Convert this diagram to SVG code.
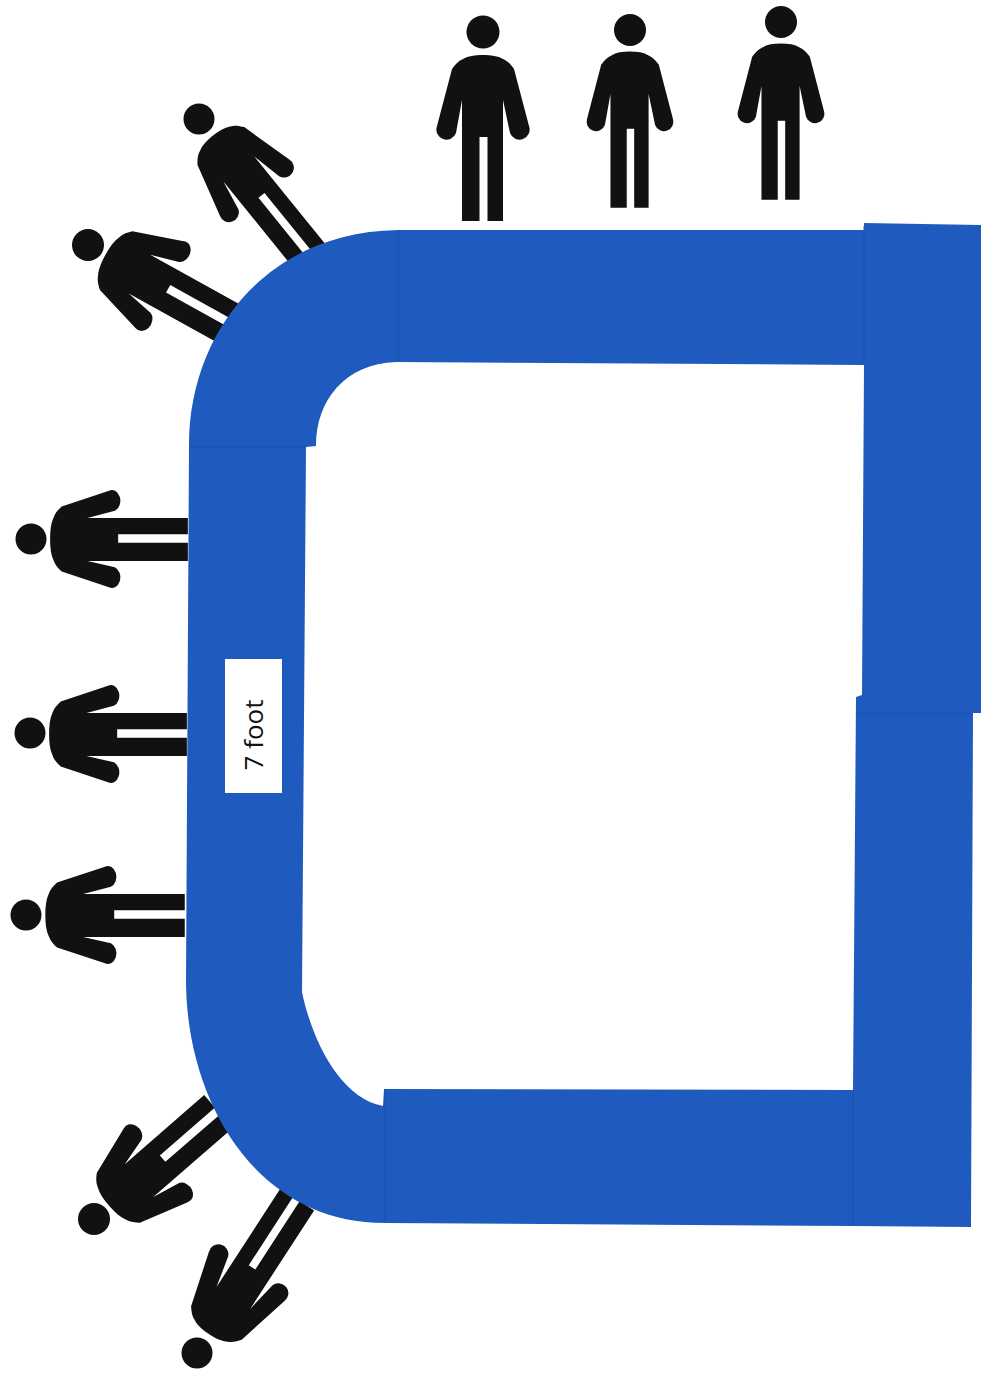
<svg xmlns="http://www.w3.org/2000/svg" xmlns:xlink="http://www.w3.org/1999/xlink" width="981" height="1379" viewBox="0 0 981 1379">
<style>
.fig{fill:#111}
.seam{fill:none;stroke:#1a50a8;stroke-width:1.5;opacity:.6}
.lbl{font-family:"Open Sans","Liberation Sans",sans-serif;font-size:26px;fill:#111}
</style>
<defs>
<path id="body" d="M0,23C8,23 15,24 20,27C25,29 28,33 31,37L46,94A10,10 0 0 1 27,101L20,68V189H4.5V105H-3.5V189H-21V68L-27,101A10,10 0 0 1 -46,94L-31,37C-28,33 -25,29 -20,27C-15,24 -8,23 0,23Z"/>
</defs>
<rect width="981" height="1379" fill="#fff"/>
<g id="person-top-1" class="fig"><circle cx="483" cy="32" r="16.5"/><use xlink:href="#body" href="#body" transform="translate(483,32)"/></g>
<g id="person-top-2" class="fig"><circle cx="630" cy="30" r="16"/><use xlink:href="#body" href="#body" transform="translate(630,30) scale(.93,.94)"/></g>
<g id="person-top-3" class="fig"><circle cx="781" cy="22" r="16"/><use xlink:href="#body" href="#body" transform="translate(781,22) scale(.93,.94)"/></g>
<g id="person-upper-1" class="fig"><circle cx="199" cy="119" r="15.5"/><use xlink:href="#body" href="#body" transform="translate(199,119) rotate(-39) scale(.97,.94)"/></g>
<g id="person-upper-2" class="fig"><circle cx="88" cy="245" r="16"/><use xlink:href="#body" href="#body" transform="translate(88,245) rotate(-61) scale(1.08,.87)"/></g>
<g id="person-left-1" class="fig"><circle cx="31" cy="539" r="15.5"/><use xlink:href="#body" href="#body" transform="translate(31,539) rotate(-90) scale(1.05,.83)"/></g>
<g id="person-left-2" class="fig"><circle cx="30" cy="733" r="15.5"/><use xlink:href="#body" href="#body" transform="translate(30,734) rotate(-90) scale(1.05,.83)"/></g>
<g id="person-left-3" class="fig"><circle cx="26" cy="915" r="15.5"/><use xlink:href="#body" href="#body" transform="translate(26,915) rotate(-90) scale(1.05,.84)"/></g>
<g id="person-lower-1" class="fig"><circle cx="94" cy="1219" r="16"/><use xlink:href="#body" href="#body" transform="translate(94,1219) rotate(-131) scale(1.06,.87)"/></g>
<g id="person-lower-2" class="fig"><circle cx="197" cy="1353" r="15.5"/><use xlink:href="#body" href="#body" transform="translate(197,1353) rotate(-147) scale(.98,.97)"/></g>
<g id="table">
<path fill="#1f5bbe" fill-rule="evenodd" d="M398,230H864V223L981,225V713H973L971,1227L853,1226L385,1223C255,1223 186,1100 186,980L189,445C189,335 265,232 398,230ZM396,362C345,364 316,400 316,446L306,447L302,992C312,1040 340,1098 383,1106L384,1089L853,1090L856,697L862,695L864,365L396,362Z"/>
<path class="seam" d="M398,231V362M864,226V364M190,447H306M385,1090V1222M853,1090V1226M856,714H973"/>
</g>
<g id="label-7-foot">
<rect x="225" y="659" width="57" height="134" fill="#fff"/>
<text class="lbl" transform="translate(263,735) rotate(-90)" text-anchor="middle">7 foot</text>
</g>
</svg>
